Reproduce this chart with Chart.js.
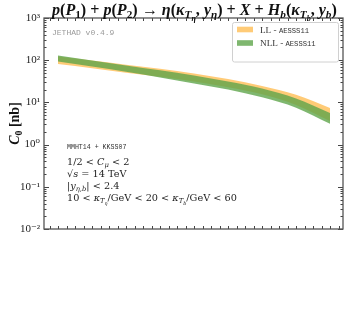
<!DOCTYPE html>
<html>
<head>
<meta charset="utf-8">
<script src="https://cdn.jsdelivr.net/npm/chart.js@4.4.1/dist/chart.umd.min.js"></script>
<style>
  html, body { margin: 0; padding: 0; background: #fff; }
  #wrap { width: 349px; height: 328px; }
</style>
</head>
<body>
<div id="wrap"><canvas id="c0Chart"></canvas></div>
<script>
// rapidity gap points (x axis has no printed labels in the figure)
const deltaY = [1, 2, 3, 4, 5, 6, 7, 8, 9];
// C0 [nb] bands
const llUpper  = [123, 98, 78.5, 62.4, 48.6, 35.7, 24.5, 15.1, 7.4];
const llLower  = [81, 64.6, 50.7, 40.3, 31.4, 22.8, 15.5, 8.7, 3.6];
const nllUpper = [129, 98, 75, 57.5, 43.6, 31.3, 21.4, 12.4, 5.6];
const nllLower = [93, 70.8, 53.1, 38.9, 28.2, 20.2, 13.2, 7.5, 3.1];
const yTicks = [0.01, 0.1, 1, 10, 100, 1000];
const yTickLabels = ['10⁻²', '10⁻¹', '10⁰', '10¹', '10²', '10³'];
const legendLabels = ['LL - ', 'NLL - '];
const legendTag = 'AESSS11';

const SERIF = '"Liberation Serif", "DejaVu Serif", serif';
const INFO = '"DejaVu Serif", serif';
const MONO = '"Liberation Mono", "DejaVu Sans Mono", monospace';
const orange = 'rgba(255, 190, 85, 0.8)';
const green = 'rgba(95, 165, 75, 0.8)';

function pts(ys) {
    return deltaY.map((x, i) => ({ x: x, y: ys[i] }));
}

// little rich-text helper: [text, flags] with i=italic, 1=sub, 2=subsub, m=mono
function partFont(p, size, bold, fam) {
    let f = p[1] || '';
    let sz = size * (f.includes('2') ? 0.5 : f.includes('1') ? 0.7 : 1);
    if (f.includes('m')) sz = size * 0.78;
    return (f.includes('i') ? 'italic ' : '') + (bold ? 'bold ' : '') + sz.toFixed(2) + 'px ' + (f.includes('m') ? MONO : (fam || SERIF));
}
function runWidth(ctx, parts, size, bold, fam) {
    let w = 0;
    parts.forEach(p => { ctx.font = partFont(p, size, bold, fam); w += ctx.measureText(p[0]).width; });
    return w;
}
function drawRun(ctx, parts, x, y, size, bold, color, fam) {
    ctx.fillStyle = color;
    ctx.textAlign = 'left';
    ctx.textBaseline = 'alphabetic';
    parts.forEach(p => {
        let f = p[1] || '';
        let dy = f.includes('2') ? size * 0.38 : f.includes('1') ? size * 0.22 : 0;
        ctx.font = partFont(p, size, bold, fam);
        ctx.fillText(p[0], x, y + dy);
        x += ctx.measureText(p[0]).width;
    });
}
function fitSize(ctx, parts, width, bold, fam) {
    return 10 * width / runWidth(ctx, parts, 10, bold, fam);
}

const titleParts = [
    ['p', 'i'], ['('], ['P', 'i'], ['1', '1'], [') + '], ['p', 'i'], ['('], ['P', 'i'], ['2', '1'], [') → '],
    ['η', 'i'], ['('], ['κ', 'i'], ['T', 'i1'], ['η', 'i2'], [', '], ['y', 'i'], ['η', 'i1'], [') + '],
    ['X', 'i'], [' + '], ['H', 'i'], ['b', 'i1'], ['('], ['κ', 'i'], ['T', 'i1'], ['b', 'i2'], [', '], ['y', 'i'], ['b', 'i1'], [')']
];
const infoLines = [
    [['1/2 < '], ['C', 'i'], ['μ', 'i1'], [' < 2']],
    [['√'], ['s', 'i'], [' = 14 TeV']],
    [['|'], ['y', 'i'], ['η,b', 'i1'], ['| < 2.4']],
    [['10 < '], ['κ', 'i'], ['T', 'i1'], ['η', 'i2'], ['/GeV < 20 < '], ['κ', 'i'], ['T', 'i1'], ['b', 'i2'], ['/GeV < 60']]
];
const yTitleParts = [['C', 'i'], ['0', '1'], [' [nb]']];

const decorations = {
    id: 'decorations',
    afterDatasetsDraw(chart) {
        const ctx = chart.ctx;
        const a = chart.chartArea;
        const xs = chart.scales.x, ys = chart.scales.y;
        ctx.save();
        // ticks pointing inward
        ctx.strokeStyle = '#444';
        ctx.lineWidth = 1;
        ctx.beginPath();
        for (let d = -2; d <= 3; d++) {
            for (let m = 1; m <= 9; m++) {
                const v = m * Math.pow(10, d);
                if (v > 1000) break;
                const py = Math.round(ys.getPixelForValue(v)) + 0.5;
                const len = m === 1 ? 5 : 2.5;
                ctx.moveTo(a.left, py); ctx.lineTo(a.left + len, py);
                ctx.moveTo(a.right, py); ctx.lineTo(a.right - len, py);
            }
        }
        for (let t = 0.75; t <= 9.3; t += 0.25) {
            const px = Math.round(xs.getPixelForValue(t)) + 0.5;
            ctx.moveTo(px, a.bottom); ctx.lineTo(px, a.bottom - 3);
            ctx.moveTo(px, a.top); ctx.lineTo(px, a.top + 3);
        }
        ctx.stroke();
        // frame
        ctx.strokeStyle = '#555';
        ctx.lineWidth = 1.3;
        ctx.strokeRect(a.left, a.top, a.right - a.left, a.bottom - a.top);

        // title
        const ts = fitSize(ctx, titleParts, 285, true);
        drawRun(ctx, titleParts, 52, 14.5, ts, true, '#111');

        // y axis title, rotated
        ctx.save();
        const yw = runWidth(ctx, yTitleParts, 14, true);
        ctx.translate(19, (a.top + a.bottom) / 2 + yw / 2);
        ctx.rotate(-Math.PI / 2);
        drawRun(ctx, yTitleParts, 0, 0, 14, true, '#111');
        ctx.restore();

        // watermark
        ctx.font = '8px ' + MONO;
        ctx.fillStyle = '#9a9a9a';
        ctx.fillText('JETHAD v0.4.9', 52, 35);

        // info block
        ctx.font = '6.6px ' + MONO;
        ctx.fillStyle = '#333';
        ctx.fillText('MMHT14 + KKSS07', 67, 149);
        const fs = fitSize(ctx, infoLines[3], 170, false, INFO);
        const rows = [165, 177, 189, 201];
        infoLines.forEach((ln, i) => drawRun(ctx, ln, 67, rows[i], fs, false, '#222', INFO));

        // legend
        ctx.fillStyle = '#fff';
        ctx.strokeStyle = '#d0d0d0';
        ctx.lineWidth = 1;
        ctx.beginPath();
        ctx.roundRect(232.5, 22.5, 106, 39.5, 2);
        ctx.fill();
        ctx.stroke();
        const sw = [orange, green];
        const ly = [29.5, 43];
        legendLabels.forEach((lab, i) => {
            ctx.fillStyle = sw[i];
            ctx.fillRect(237, ly[i] - 2.8, 16, 5.6);
            drawRun(ctx, [[lab], [legendTag, 'm']], 260, ly[i] + 3, 9.2, false, '#333');
        });
        ctx.restore();
    }
};

const ctxEl = document.getElementById('c0Chart');
new Chart(ctxEl, {
    type: 'line',
    data: {
        datasets: [
            { label: 'NLL upper', data: pts(nllUpper), fill: '+1', backgroundColor: green },
            { label: 'NLL lower', data: pts(nllLower), fill: false },
            { label: 'LL upper', data: pts(llUpper), fill: '+1', backgroundColor: orange },
            { label: 'LL lower', data: pts(llLower), fill: false }
        ]
    },
    options: {
        responsive: true,
        maintainAspectRatio: false,
        animation: false,
        elements: {
            point: { radius: 0 },
            line: { borderWidth: 0, borderColor: 'rgba(0,0,0,0)', cubicInterpolationMode: 'monotone' }
        },
        layout: { padding: { top: 18, right: 6, bottom: 99, left: 0 } },
        plugins: {
            legend: { display: false },
            title: { display: false },
            tooltip: { enabled: false }
        },
        scales: {
            x: {
                type: 'linear',
                display: false,
                min: 0.588,
                max: 9.38
            },
            y: {
                type: 'logarithmic',
                min: 0.01,
                max: 1000,
                afterBuildTicks: s => { s.ticks = yTicks.map(v => ({ value: v })); },
                afterFit: s => { s.width = 44; },
                grid: { display: false, drawTicks: false },
                border: { display: false },
                ticks: {
                    autoSkip: false,
                    padding: 4,
                    color: '#222',
                    font: { family: SERIF, size: 11 },
                    callback: (v) => {
                        const i = yTicks.findIndex(t => Math.abs(t - v) / t < 1e-6);
                        return i >= 0 ? yTickLabels[i] : '';
                    }
                },
                title: { display: false }
            }
        }
    },
    plugins: [decorations]
});
</script>
</body>
</html>
